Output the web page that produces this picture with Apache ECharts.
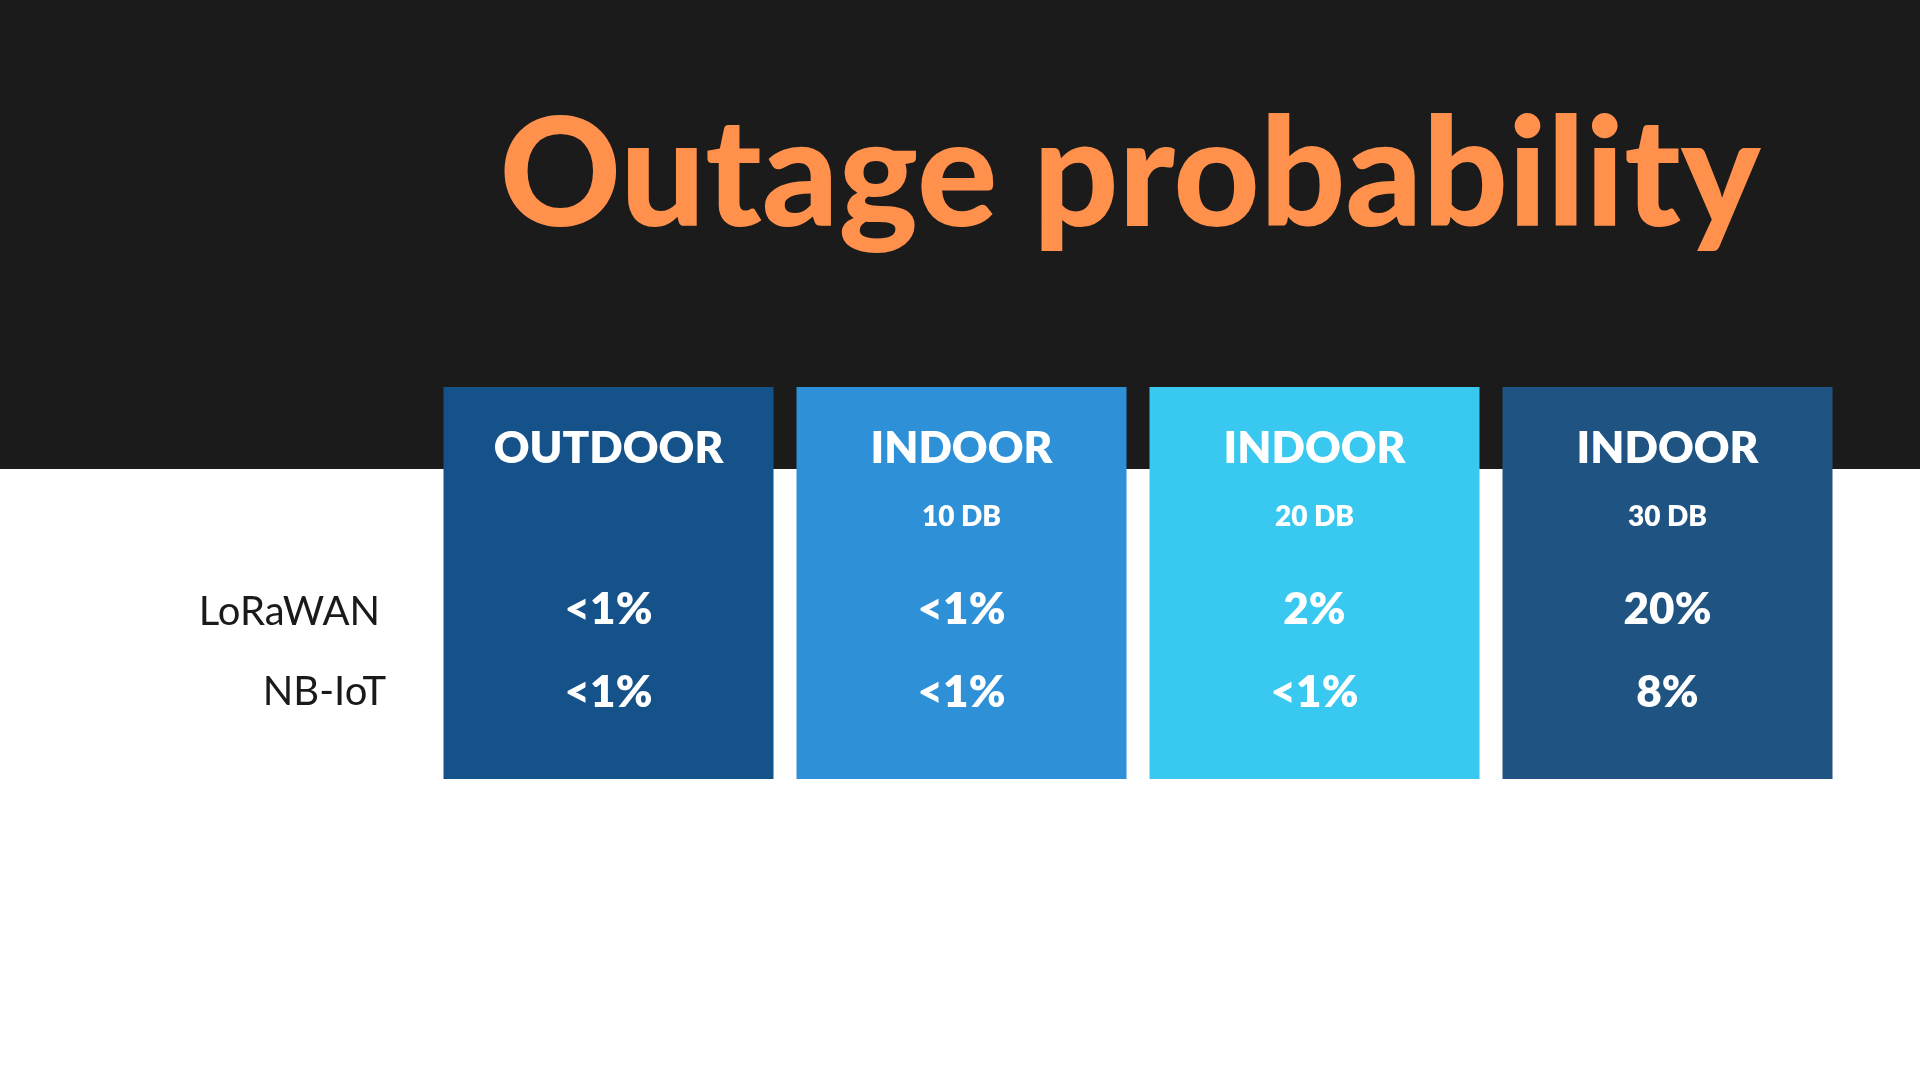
<!DOCTYPE html>
<html><head><meta charset="utf-8">
<script src="https://cdn.jsdelivr.net/npm/echarts@6/dist/echarts.min.js"></script>
<style>html,body{margin:0;padding:0;background:#fff}#c{width:1920px;height:1080px}</style>
</head><body><div id="c"></div>
<script>
const title = "Outage probability";
const columns = ["OUTDOOR", "INDOOR", "INDOOR", "INDOOR"];
const subtitles = ["", "10 DB", "20 DB", "30 DB"];
const rows = ["LoRaWAN", "NB-IoT"];
const loraValues = ["<1%", "<1%", "2%", "20%"];
const nbiotValues = ["<1%", "<1%", "<1%", "8%"];
const colors = ["#15528A", "#2E90D6", "#38C8F0", "#1F5482"];

const chart = echarts.init(document.getElementById('c'));
const F = "Lato, 'Open Sans', sans-serif";
chart.setOption({
  backgroundColor: '#ffffff',
  graphic: [
    {type:'rect', shape:{x:0,y:0,width:1920,height:469}, style:{fill:'#1b1b1b'}, z:-10},
    {type:'text', x:1130, y:178, style:{text:title, fill:'#FF914D', font:'900 150px '+F, textAlign:'center', textVerticalAlign:'middle'}},
    {type:'text', x:380, y:612, style:{text:rows[0], fill:'#1a1a1a', font:'400 40px '+F, textAlign:'right', textVerticalAlign:'middle'}},
    {type:'text', x:386, y:692, style:{text:rows[1], fill:'#1a1a1a', font:'400 40px '+F, textAlign:'right', textVerticalAlign:'middle'}}
  ],
  grid: {left: 432, right: 76, top: 387, bottom: 301},
  xAxis: {type:'category', data: columns, show:false},
  yAxis: {type:'value', min:0, max:1, show:false},
  series: [{
    type:'custom',
    data: columns.map((c,i)=>[i, 0]),
    renderItem: function(params, api){
      const i = api.value(0);
      const c = api.coord([i, 0]);
      const band = api.size([1, 0])[0];
      const w = band - 23;
      const cs = params.coordSys;
      const top = cs.y, h = cs.height;
      const x = c[0];
      const t = (txt, y, size) => ({type:'text', style:{text:txt, x:x, y:top+y, fill:'#fff', font:'800 '+size+'px '+F, textAlign:'center', textVerticalAlign:'middle'}});
      return {type:'group', children:[
        {type:'rect', shape:{x:x-w/2, y:top, width:w, height:h}, style:{fill:colors[i]}},
        t(columns[i], 62, 44),
        t(subtitles[i], 130, 28),
        t(loraValues[i], 223, 44),
        t(nbiotValues[i], 306, 44)
      ]};
    }
  }]
});
</script></body></html>
